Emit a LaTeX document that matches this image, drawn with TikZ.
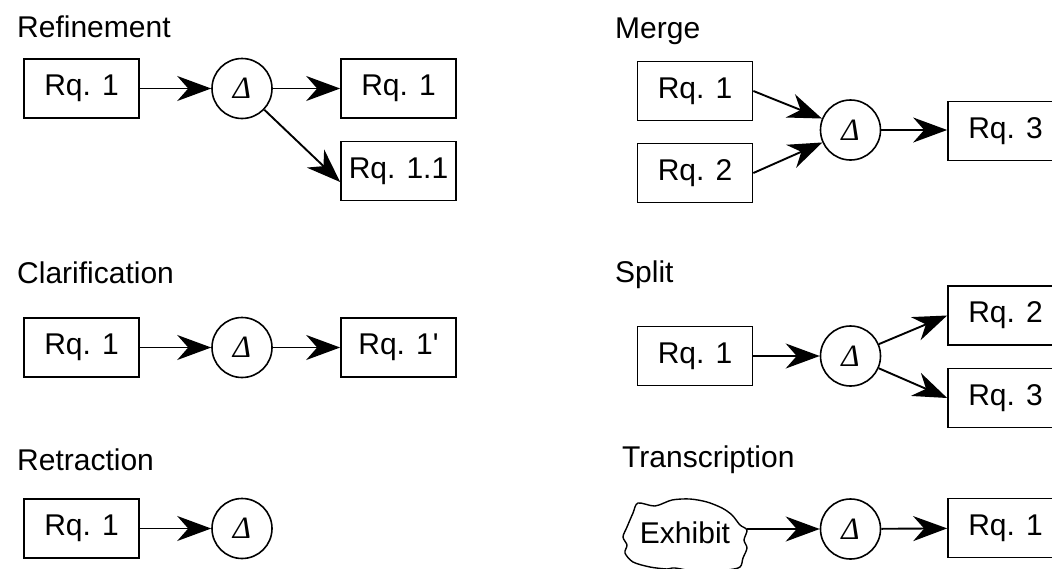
\documentclass[tikz,border=0pt]{standalone}
\usepackage{fontspec}
\setmainfont{Liberation Sans}
\newfontfamily\deltafont{Liberation Serif}
\usetikzlibrary{arrows.meta}

\newcommand{\chg}{{\deltafont\itshape\fontsize{31}{34}\selectfont Δ}}

\begin{document}
\begin{tikzpicture}[x=1pt, y=-1pt]

\tikzset{rq/.style = {shape=rectangle,draw,line width=1.7pt,minimum width=115pt,minimum height=59pt,inner sep=0pt,font=\fontsize{30}{34}\selectfont}}
\tikzset{delta/.style = {shape=circle,draw,line width=1.6pt,minimum size=60pt,inner sep=0pt}}
\tikzset{title/.style = {anchor=base west,inner sep=0pt,font=\fontsize{30}{34}\selectfont}}
\tikzset{edge/.style = {-{Stealth[length=34pt,width=25pt,inset=11pt]},line width=1.9pt}}

\useasboundingbox (0,0) rectangle (1052,568);
\clip (0,0) rectangle (1052,568);

% refinement
\node[title] (trefine) at (17,37) {Refinement};
\node[rq] (ra) at (81.5,88.5) {Rq. 1};
\node[delta] (rd) at (242,88.5) {\chg};
\node[rq] (rb) at (398.5,88.5) {Rq. 1};
\node[rq] (rc) at (398.5,171) {Rq. 1.1};
\draw[edge] (ra) -- (rd);
\draw[edge] (rd) -- (rb);
\draw[edge] (rd) -- ([yshift=-11pt]rc.west);

% clarification
\node[title] (tclar) at (17,283) {Clarification};
\node[rq] (ca) at (81.5,347.5) {Rq. 1};
\node[delta] (cd) at (242,347.5) {\chg};
\node[rq] (cb) at (398.5,347.5) {Rq. 1\textquotesingle};
\draw[edge] (ca) -- (cd);
\draw[edge] (cd) -- (cb);

% retraction
\node[title] (tretr) at (17,470) {Retraction};
\node[rq] (xa) at (81.5,528.5) {Rq. 1};
\node[delta] (xd) at (242,528.5) {\chg};
\draw[edge] (xa) -- (xd);

% merge
\node[title] (tmerge) at (615,38) {Merge};
\node[rq] (ma) at (695,91) {Rq. 1};
\node[rq] (mb) at (695,173) {Rq. 2};
\node[delta] (md) at (850.5,130) {\chg};
\node[rq] (mc) at (1005.5,131) {Rq. 3};
\draw[edge] (ma.east) -- (md);
\draw[edge] (mb.east) -- (md);
\draw[edge] (md) -- (md -| mc.west);

% split
\node[title] (tsplit) at (615,282) {Split};
\node[rq] (sa) at (695,356) {Rq. 1};
\node[delta] (sd) at (850.5,356) {\chg};
\node[rq] (sb) at (1005.5,315.5) {Rq. 2};
\node[rq] (sc) at (1005.5,398) {Rq. 3};
\draw[edge] (sa) -- (sd);
\draw[edge] (sd) -- (sb.west);
\draw[edge] (sd) -- (sc.west);

% transcription
\node[title] (ttrans) at (622,467) {Transcription};
\node[inner sep=0pt,font=\fontsize{30}{34}\selectfont] (exh) at (685,533) {Exhibit};
\draw[line width=1.4pt,shift={(exh.center)}] plot[smooth cycle,tension=0.5] coordinates {
  (-47,-30) (-30,-27) (-13,-33) (5,-34) (22,-31) (37,-25) (47,-18) (55,-8)
  (62,-3) (59,7) (62,15) (58,25) (55,34) (42,37) (15,39) (-10,35)
  (-18,36) (-35,34) (-52,29) (-60,20) (-58,12) (-62,4) (-58,-6) (-52,-20)};
\coordinate (exhr) at (747,529);
\node[delta] (td) at (850.5,529) {\chg};
\node[rq] (ta) at (1005.5,528) {Rq. 1};
\draw[edge] (exhr) -- (td);
\draw[edge] (td) -- (ta);

\end{tikzpicture}
\end{document}
